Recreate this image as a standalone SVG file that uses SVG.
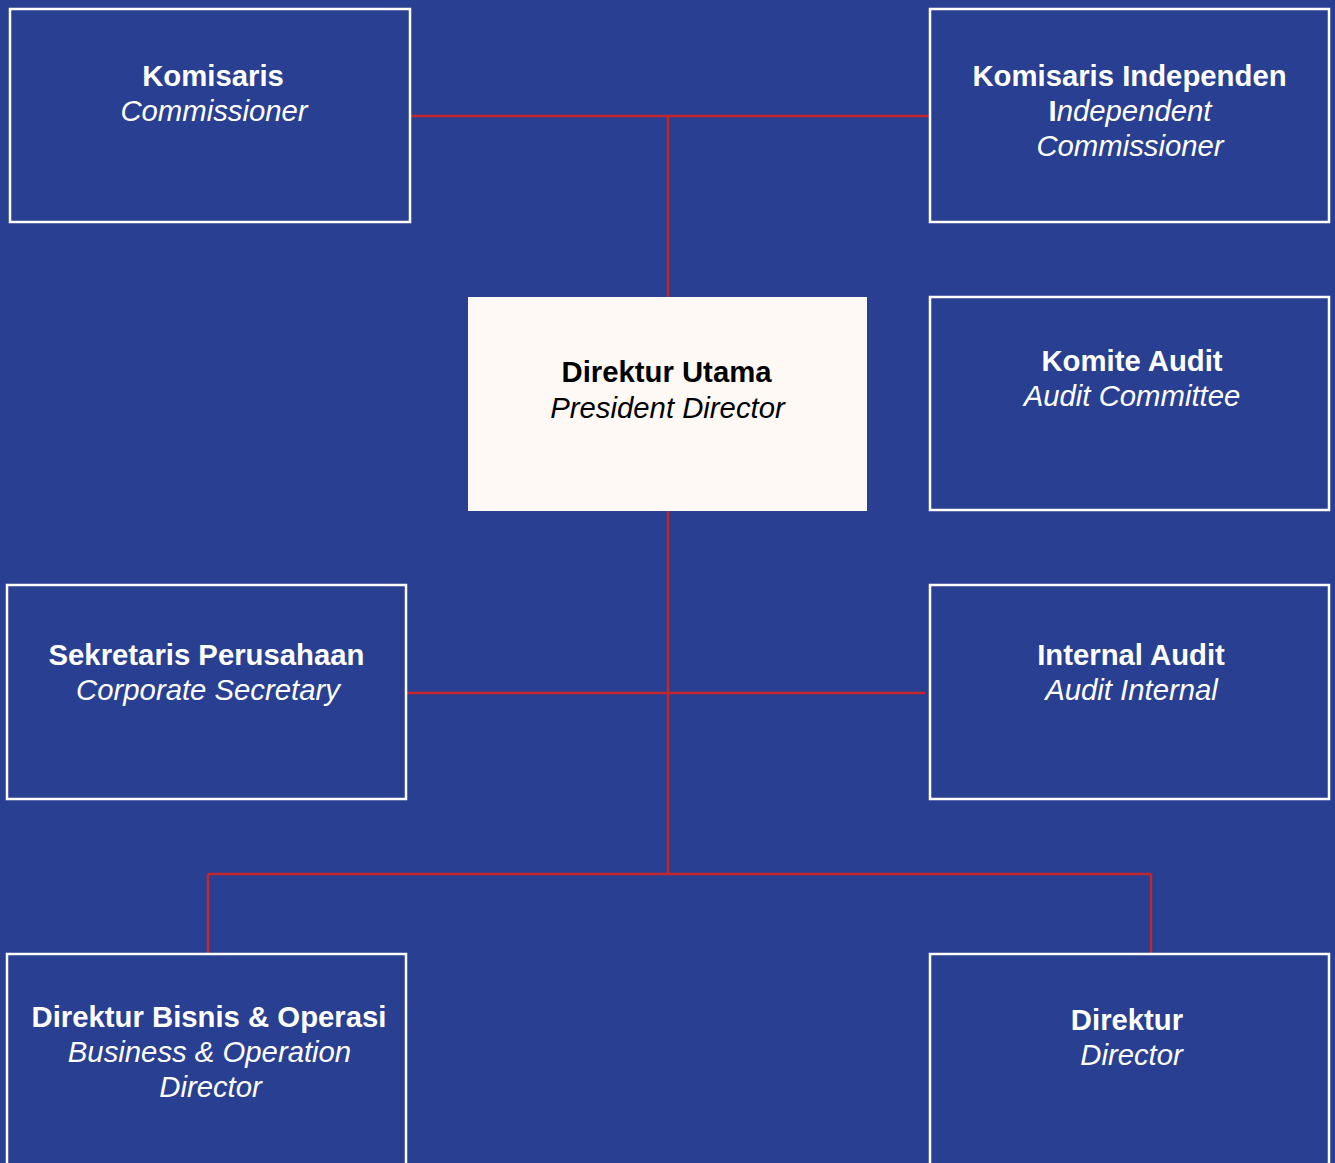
<svg xmlns="http://www.w3.org/2000/svg" width="1335" height="1163" viewBox="0 0 1335 1163">
<style>
.bg{fill:#293F91}
.box{fill:#293F91;stroke:#FFFFFF;stroke-width:2.5}
.main{fill:#FFF9F6;stroke:none}
.t{font-family:"Liberation Sans",Arial,sans-serif;font-size:29.3px;text-anchor:middle;fill:#FFFFFF}
.b{font-weight:bold}
.i{font-style:italic}
.dk{fill:#000000}
.c{stroke:#C1272D;stroke-width:2.5;fill:none}
</style>
<rect class="bg" x="0" y="0" width="1335" height="1163"/>
<g id="connectors">
<line class="c" x1="410" y1="116" x2="930" y2="116"/>
<line class="c" x1="668" y1="116" x2="668" y2="297"/>
<line class="c" x1="668" y1="511" x2="668" y2="874"/>
<line class="c" x1="406" y1="693" x2="925" y2="693"/>
<line class="c" x1="208" y1="874" x2="1151" y2="874"/>
<line class="c" x1="208" y1="874" x2="208" y2="954"/>
<line class="c" x1="1151" y1="874" x2="1151" y2="954"/>
</g>
<g id="komisaris">
<rect class="box" x="10" y="9" width="400" height="213"/>
<text class="t b" x="213" y="86">Komisaris</text>
<text class="t i" x="214" y="121">Commissioner</text>
</g>
<g id="komisaris-independen">
<rect class="box" x="930" y="9" width="399" height="213"/>
<text class="t b" x="1129.5" y="86">Komisaris Independen</text>
<text class="t" x="1130" y="121"><tspan class="b">I</tspan><tspan class="i">ndependent</tspan></text>
<text class="t i" x="1130" y="156">Commissioner</text>
</g>
<g id="direktur-utama">
<rect class="main" x="468" y="297" width="399" height="214"/>
<text class="t b dk" x="666.5" y="382">Direktur Utama</text>
<text class="t i dk" x="667.5" y="418">President Director</text>
</g>
<g id="komite-audit">
<rect class="box" x="930" y="297" width="399" height="213"/>
<text class="t b" x="1132" y="371">Komite Audit</text>
<text class="t i" x="1132" y="406">Audit Committee</text>
</g>
<g id="sekretaris-perusahaan">
<rect class="box" x="7" y="585" width="399" height="214"/>
<text class="t b" x="206.5" y="665">Sekretaris Perusahaan</text>
<text class="t i" x="208" y="700">Corporate Secretary</text>
</g>
<g id="internal-audit">
<rect class="box" x="930" y="585" width="399" height="214"/>
<text class="t b" x="1131" y="665">Internal Audit</text>
<text class="t i" x="1131.5" y="700">Audit Internal</text>
</g>
<g id="direktur-bisnis-operasi">
<rect class="box" x="7" y="954" width="399" height="220"/>
<text class="t b" x="209" y="1027">Direktur Bisnis &amp; Operasi</text>
<text class="t i" x="209.5" y="1062">Business &amp; Operation</text>
<text class="t i" x="210.5" y="1097">Director</text>
</g>
<g id="direktur">
<rect class="box" x="930" y="954" width="399" height="220"/>
<text class="t b" x="1127" y="1030">Direktur</text>
<text class="t i" x="1131.5" y="1065">Director</text>
</g>
</svg>
